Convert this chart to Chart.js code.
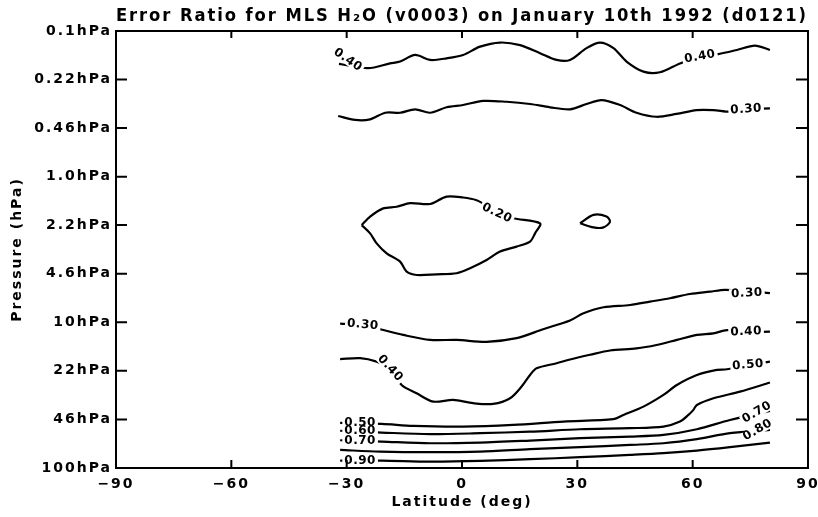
<!DOCTYPE html>
<html>
<head>
<meta charset="utf-8">
<script src="https://cdn.jsdelivr.net/npm/chart.js@4.4.1/dist/chart.umd.min.js"></script>
<style>
  body { margin: 0; background: #fff; }
</style>
</head>
<body>
<canvas id="chart" width="818" height="517"></canvas>
<script>
// axis ticks
const latTicks = [-90, -60, -30, 0, 30, 60, 90];
const latTickLabels = ['\u221290', '\u221260', '\u221230', '0', '30', '60', '90'];
const pressureTicks = [100, 46.4, 21.5, 10, 4.64, 2.15, 1, 0.464, 0.215, 0.1];
const pressureTickLabels = ['100hPa', '46hPa', '22hPa', '10hPa', '4.6hPa', '2.2hPa', '1.0hPa', '0.46hPa', '0.22hPa', '0.1hPa'];

// contour lines, [latitude, pressure hPa]
const upper040 = [[-32, 0.168], [-24.4, 0.180], [-18.7, 0.167], [-16.1, 0.162], [-12.2, 0.146], [-8.3, 0.158], [-4.0, 0.154], [0.3, 0.146], [4.7, 0.128], [9.9, 0.120], [15.1, 0.125], [20.3, 0.142], [24.6, 0.158], [28.1, 0.158], [32.4, 0.131], [35.9, 0.120], [39.4, 0.131], [42.8, 0.162], [47.2, 0.190], [51.5, 0.192], [56.7, 0.167], [61.9, 0.150], [66.7, 0.144], [71.5, 0.135], [76.2, 0.126], [80.1, 0.135]];
const upper030 = [[-32.2, 0.383], [-27.8, 0.408], [-23.9, 0.404], [-20.0, 0.364], [-16.1, 0.364], [-12.2, 0.345], [-8.3, 0.364], [-4.0, 0.334], [0.3, 0.322], [5.5, 0.302], [11.6, 0.306], [17.7, 0.317], [22.9, 0.334], [28.1, 0.345], [32.4, 0.317], [36.3, 0.298], [41.1, 0.322], [45.4, 0.364], [50.6, 0.388], [55.8, 0.371], [61.0, 0.349], [65.4, 0.349], [69.7, 0.358], [74.0, 0.345], [80.1, 0.340]];
const blob020 = [[-26.1, 2.15], [-23.9, 1.88], [-20.5, 1.65], [-17.0, 1.61], [-13.5, 1.52], [-8.3, 1.54], [-4.0, 1.37], [0.3, 1.39], [3.8, 1.45], [6.0, 1.56], [9.0, 1.78], [13.3, 1.93], [20.3, 2.09], [19.0, 2.45], [17.7, 2.79], [14.2, 3.02], [9.9, 3.27], [6.4, 3.73], [2.1, 4.25], [-1.4, 4.60], [-6.6, 4.68], [-11.8, 4.73], [-14.4, 4.49], [-16.1, 3.83], [-19.6, 3.36], [-22.2, 2.87], [-23.9, 2.45], [-26.1, 2.15]];
const island020 = [[30.7, 2.09], [34.2, 1.83], [37.6, 1.88], [38.5, 2.04], [36.8, 2.23], [34.2, 2.23], [30.7, 2.09]];
const middle030 = [[-31.7, 10.2], [-26.1, 10.4], [-21.3, 11.15], [-15.3, 12.2], [-8.3, 13.2], [-1.4, 13.2], [6.4, 13.6], [14.2, 12.85], [21.1, 11.15], [28.1, 9.7], [31.6, 8.66], [36.8, 7.88], [43.7, 7.60], [48.9, 7.21], [54.1, 6.83], [59.3, 6.39], [64.5, 6.16], [68.4, 5.99], [73.6, 6.1], [80.1, 6.3]];
const middle040 = [[-31.7, 17.9], [-26.5, 17.6], [-22.2, 18.6], [-18.7, 20.7], [-15.7, 26.9], [-11.8, 30.7], [-7.5, 35.0], [-2.3, 34.1], [2.9, 35.9], [8.1, 36.3], [12.5, 33.2], [15.5, 27.6], [17.7, 23.0], [19.4, 20.7], [24.6, 19.1], [28.1, 18.0], [33.3, 16.7], [38.5, 15.6], [45.4, 15.1], [50.6, 14.3], [55.9, 13.2], [61.1, 12.2], [65.4, 11.9], [68.9, 11.3], [73.6, 11.6], [80.1, 11.6]];
const lower050 = [[-31.7, 49.0], [-20.9, 49.8], [-12.7, 51.4], [0.3, 52.0], [13.3, 50.6], [26.4, 48.0], [39.4, 46.2], [42.0, 43.2], [47.2, 37.9], [52.4, 31.5], [55.9, 26.9], [61.1, 23.0], [66.3, 21.2], [68.9, 21.0], [74.1, 19.6], [80.1, 18.6]];
const lower060 = [[-31.7, 55.5], [-20.9, 57.1], [-8.3, 58.6], [4.7, 57.7], [17.7, 56.3], [30.7, 54.2], [43.7, 53.3], [52.4, 52.0], [56.7, 48.0], [58.9, 43.2], [60.2, 39.9], [61.1, 36.9], [65.4, 33.2], [72.3, 29.9], [80.1, 25.9]];
const lower070 = [[-31.7, 64.5], [-20.9, 65.9], [-8.3, 67.6], [4.7, 66.9], [17.7, 64.8], [30.7, 62.4], [43.7, 60.9], [52.4, 59.3], [61.1, 54.2], [69.7, 46.8], [80.1, 40.5]];
const lower080 = [[-31.7, 75.1], [-21.3, 77.2], [-8.3, 77.9], [4.7, 77.2], [17.7, 74.3], [30.7, 72.0], [43.7, 69.4], [52.4, 67.6], [61.1, 63.4], [69.7, 57.7], [80.1, 54.8]];
const lower090 = [[-31.7, 89.0], [-20.9, 89.0], [-8.3, 90.4], [4.7, 89.4], [17.7, 87.0], [30.7, 84.3], [43.7, 81.3], [52.4, 79.1], [61.1, 76.0], [69.7, 72.0], [80.1, 66.9]];

// contour labels: text, latitude, pressure, rotation in degrees
const contourLabels = [
  ['0.40', -29.7, 0.158, 35], ['0.40', 61.9, 0.150, -10], ['0.30', 73.9, 0.345, -4],
  ['0.20', 9.1, 1.78, 25],
  ['0.30', -25.8, 10.4, 5], ['0.30', 74.1, 6.32, -3],
  ['0.40', -18.7, 20.7, 48], ['0.40', 73.9, 11.6, -2],
  ['0.50', 74.4, 19.6, -5], ['0.70', 76.7, 41.5, -30], ['0.80', 76.9, 54.8, -30],
  ['0.50', -26.5, 49.0, 0], ['0.60', -26.5, 55.4, 0], ['0.70', -26.5, 64.8, 0], ['0.90', -26.5, 89.0, 0]
];

const contours = [upper040, upper030, blob020, island020, middle030, middle040, lower050, lower060, lower070, lower080, lower090];

const frame = {
  id: 'frame',
  beforeDraw(chart) {
    const ctx = chart.ctx;
    ctx.save();
    ctx.fillStyle = '#fff';
    ctx.fillRect(0, 0, chart.width, chart.height);
    ctx.restore();
    ctx.letterSpacing = '2px';
  },
  afterDatasetsDraw(chart) {
    const {ctx, scales: {x, y}} = chart;
    ctx.save();
    ctx.letterSpacing = '0.5px';
    ctx.font = 'bold 12px "DejaVu Sans"';
    ctx.textAlign = 'center';
    ctx.textBaseline = 'middle';
    const items = contourLabels.map(l => ({t: l[0], px: x.getPixelForValue(l[1]), py: y.getPixelForValue(l[2]), a: l[3] * Math.PI / 180}));
    items.forEach(it => {
      const w = ctx.measureText(it.t).width + 4;
      ctx.save();
      ctx.translate(it.px, it.py);
      ctx.rotate(it.a);
      ctx.fillStyle = '#fff';
      ctx.fillRect(-w / 2, -5, w, 10);
      ctx.restore();
    });
    items.forEach(it => {
      ctx.save();
      ctx.translate(it.px, it.py);
      ctx.rotate(it.a);
      ctx.fillStyle = '#000';
      ctx.fillText(it.t, 0, 0);
      ctx.restore();
    });
    ctx.restore();
  },
  afterDraw(chart) {
    const {ctx, chartArea: a, scales: {x, y}} = chart;
    ctx.save();
    ctx.strokeStyle = '#000';
    ctx.lineWidth = 2;
    ctx.strokeRect(a.left, a.top, a.right - a.left, a.bottom - a.top);
    ctx.beginPath();
    pressureTicks.forEach(v => {
      const py = y.getPixelForValue(v);
      ctx.moveTo(a.left, py); ctx.lineTo(a.left + 11, py);
      ctx.moveTo(a.right - 12, py); ctx.lineTo(a.right, py);
    });
    latTicks.slice(1, -1).forEach(v => {
      const px = x.getPixelForValue(v);
      ctx.moveTo(px, a.bottom); ctx.lineTo(px, a.bottom - 8);
      ctx.moveTo(px, a.top); ctx.lineTo(px, a.top + 7);
    });
    ctx.stroke();
    ctx.restore();
  }
};

const axisFont = {family: '"DejaVu Sans"', size: 14, weight: 'bold'};

new Chart(document.getElementById('chart'), {
  type: 'scatter',
  data: {
    datasets: contours.map(c => ({
      data: c.map(pt => ({x: pt[0], y: pt[1]})),
      showLine: true,
      borderColor: '#000',
      borderWidth: 2.2,
      pointRadius: 0,
      tension: 0.3
    }))
  },
  options: {
    responsive: false,
    animation: false,
    layout: {padding: {left: 0, right: 10, top: 0, bottom: 0}},
    plugins: {
      legend: {display: false},
      tooltip: {enabled: false},
      title: {
        display: true,
        fullSize: false,
        text: 'Error Ratio for MLS H\u2082O (v0003) on January 10th 1992 (d0121)',
        color: '#000',
        font: {family: '"DejaVu Sans"', size: 17, weight: 'bold'},
        padding: {top: 6, bottom: 4.6}
      }
    },
    scales: {
      x: {
        type: 'linear',
        min: -90,
        max: 90,
        grid: {display: false, drawTicks: false},
        border: {display: false},
        afterBuildTicks: s => { s.ticks = latTicks.map(v => ({value: v})); },
        afterFit: s => { s.height = 49; s.paddingLeft = 0; s.paddingRight = 0; },
        ticks: {
          color: '#000',
          font: axisFont,
          padding: 8,
          maxRotation: 0,
          callback: (v, i) => latTickLabels[i]
        },
        title: {display: true, text: 'Latitude (deg)', color: '#000', font: axisFont, padding: {top: 0, bottom: 6}}
      },
      y: {
        type: 'logarithmic',
        min: 0.1,
        max: 100,
        reverse: true,
        grid: {display: false, drawTicks: false},
        border: {display: false},
        afterBuildTicks: s => { s.ticks = pressureTicks.map(v => ({value: v})); },
        afterFit: s => { s.width = 116; },
        ticks: {
          color: '#000',
          font: axisFont,
          padding: 4,
          autoSkip: false,
          callback: (v, i) => pressureTickLabels[i]
        },
        title: {display: true, text: 'Pressure (hPa)', color: '#000', font: axisFont, padding: {top: 9, bottom: 0}}
      }
    }
  },
  plugins: [frame]
});
</script>
</body>
</html>
